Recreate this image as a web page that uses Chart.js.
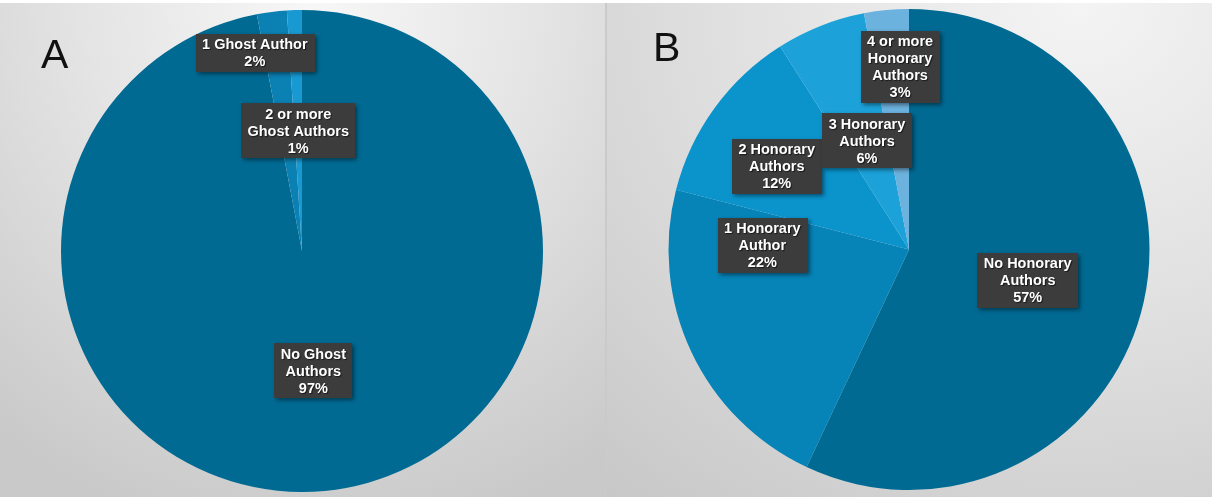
<!DOCTYPE html>
<html>
<head>
<meta charset="utf-8">
<script src="https://cdn.jsdelivr.net/npm/chart.js@4/dist/chart.umd.min.js"></script>
<style>
  body { margin: 0; background: #ffffff; width: 1212px; height: 497px; overflow: hidden; position: relative; font-family: "Liberation Sans", Arial, sans-serif; }
  .painel { position: absolute; top: 3px; height: 494px; }
  #painelA { left: 0; width: 605px; background: radial-gradient(ellipse 85% 110% at 52% 0%, #f7f7f7 0%, #e4e4e4 45%, #c9c9c9 100%); }
  #painelB { left: 607px; width: 605px; background: radial-gradient(ellipse 125% 135% at 78% 0%, #f4f4f4 0%, #e1e1e1 45%, #c6c6c6 100%); }
  #divisor { position: absolute; left: 605px; top: 3px; width: 2px; height: 494px; background: #cacaca; }
  .painel canvas { position: absolute; left: 0; top: -3px; }
  .letra { position: absolute; font-size: 41px; color: #111; line-height: 1; }
</style>
</head>
<body>
<div id="painelA" class="painel"><canvas id="graficoGhost" width="605" height="497"></canvas></div>
<div id="divisor"></div>
<div id="painelB" class="painel"><canvas id="graficoHonorary" width="605" height="497"></canvas></div>
<div class="letra" style="left:41px; top:34px;">A</div>
<div class="letra" style="left:653px; top:27px;">B</div>

<script>
// dados - autores fantasma (A)
const categoriasGhost = [['No Ghost', 'Authors'], ['1 Ghost Author'], ['2 or more', 'Ghost Authors']];
const valoresGhost = [97, 2, 1];
const coresGhost = ['#006a93', '#0b80b2', '#1899d1'];

// dados - autores honorarios (B)
const categoriasHonorary = [['No Honorary', 'Authors'], ['1 Honorary', 'Author'], ['2 Honorary', 'Authors'], ['3 Honorary', 'Authors'], ['4 or more', 'Honorary', 'Authors']];
const valoresHonorary = [57, 22, 12, 6, 3];
const coresHonorary = ['#006a93', '#0683b7', '#0b93cc', '#1ca2d9', '#6cb2de'];

// onde cada rotulo fica: [desvio do angulo em graus, fracao do raio]
const posRotulosGhost = [[0, 0.5], [-6.2, 0.845], [0, 0.5]];
const posRotulosHonorary = [[2, 0.51], [26.8, 0.61], [-3.8, 0.65], [0.5, 0.485], [2.6, 0.76]];

const rotulosCaixa = {
    id: 'rotulosCaixa',
    afterDatasetsDraw(chart, args, opcoes) {
        const ctx = chart.ctx;
        const meta = chart.getDatasetMeta(0);
        const valores = chart.data.datasets[0].data;
        ctx.save();
        ctx.font = 'bold 14.5px "Liberation Sans", Arial, sans-serif';
        ctx.textAlign = 'center';
        ctx.textBaseline = 'middle';
        meta.data.forEach((arco, i) => {
            const p = arco.getProps(['x', 'y', 'startAngle', 'endAngle', 'outerRadius'], true);
            const pos = opcoes.posicoes[i];
            const ang = (p.startAngle + p.endAngle) / 2 + pos[0] * Math.PI / 180;
            const cx = p.x + Math.cos(ang) * p.outerRadius * pos[1];
            const cy = p.y + Math.sin(ang) * p.outerRadius * pos[1];

            const linhas = [].concat(chart.data.labels[i], valores[i] + '%');
            const alturaLinha = 17;
            let largura = 0;
            linhas.forEach(l => { largura = Math.max(largura, ctx.measureText(l).width); });
            const w = largura + 13;
            const h = linhas.length * alturaLinha + 4;

            ctx.shadowColor = 'rgba(0,0,0,0.45)';
            ctx.shadowBlur = 4;
            ctx.shadowOffsetX = 2;
            ctx.shadowOffsetY = 2;
            ctx.fillStyle = '#3c3c3c';
            ctx.fillRect(Math.round(cx - w / 2), Math.round(cy - h / 2), Math.round(w), Math.round(h));

            ctx.shadowColor = 'rgba(0,0,0,0.6)';
            ctx.shadowBlur = 1;
            ctx.shadowOffsetX = 1;
            ctx.shadowOffsetY = 1;
            ctx.fillStyle = '#ffffff';
            linhas.forEach((l, j) => {
                ctx.fillText(l, cx, cy - h / 2 + 2 + alturaLinha * j + alturaLinha / 2 + 1);
            });
        });
        ctx.restore();
    }
};

function criaPizza(id, categorias, valores, cores, posicoes, padding) {
    return new Chart(document.getElementById(id), {
        type: 'pie',
        data: {
            labels: categorias,
            datasets: [{
                data: valores,
                backgroundColor: cores,
                borderWidth: 0
            }]
        },
        options: {
            responsive: false,
            animation: false,
            layout: { padding: padding },
            plugins: {
                legend: { display: false },
                tooltip: { enabled: false },
                rotulosCaixa: { posicoes: posicoes }
            }
        },
        plugins: [rotulosCaixa]
    });
}

const graficoParaGhost = criaPizza('graficoGhost', categoriasGhost, valoresGhost, coresGhost, posRotulosGhost,
    { top: 10, bottom: 5, left: 0, right: 1 });
const graficoParaHonorary = criaPizza('graficoHonorary', categoriasHonorary, valoresHonorary, coresHonorary, posRotulosHonorary,
    { top: 9, bottom: 7, left: 0, right: 1 });
</script>
</body>
</html>
